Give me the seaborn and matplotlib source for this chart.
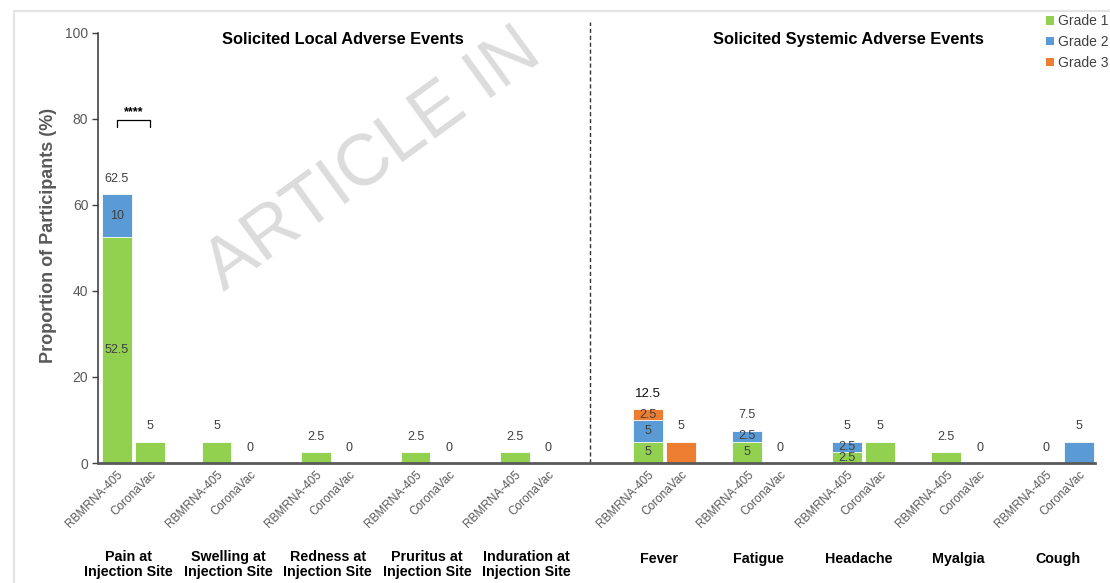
import matplotlib
matplotlib.use("Agg")
import matplotlib.pyplot as plt
from matplotlib.patches import Patch, Rectangle
import numpy as np
import pandas as pd
import seaborn as sns

# ---- data -------------------------------------------------------------
vaccines = ["RBMRNA-405", "CoronaVac"]
local_events = ["Pain at\nInjection Site", "Swelling at\nInjection Site",
                "Redness at\nInjection Site", "Pruritus at\nInjection Site",
                "Induration at\nInjection Site"]
systemic_events = ["Fever", "Fatigue", "Headache", "Myalgia", "Cough"]

# one value per bar: events in order, RBMRNA-405 then CoronaVac
grade1 = [52.5, 5, 5, 0, 2.5, 0, 2.5, 0, 2.5, 0,
          5, 0, 5, 0, 2.5, 5, 2.5, 0, 0, 0]
grade2 = [10, 0, 0, 0, 0, 0, 0, 0, 0, 0,
          5, 0, 2.5, 0, 2.5, 0, 0, 0, 0, 5]
grade3 = [0, 0, 0, 0, 0, 0, 0, 0, 0, 0,
          2.5, 5, 0, 0, 0, 0, 0, 0, 0, 0]

colors = {"Grade 1": "#92D050", "Grade 2": "#5B9BD5", "Grade 3": "#ED7D31"}

# ---- layout of bar slots ------------------------------------------------
events = local_events + systemic_events
pos = []
for i in range(len(events)):
    base = 3 * i + (1 if i >= len(local_events) else 0)
    pos += [base, base + 1]
pos = np.array(pos, dtype=float)

df = pd.DataFrame({
    "pos": pos,
    "vaccine": vaccines * len(events),
    "g1": grade1, "g2": grade2, "g3": grade3,
})
df["c1"] = df["g1"]
df["c2"] = df["g1"] + df["g2"]
df["c3"] = df["c2"] + df["g3"]

# ---- style ---------------------------------------------------------------
sns.set_theme(style="white")
plt.rcParams["font.family"] = ["Liberation Sans", "DejaVu Sans"]

fig = plt.figure(figsize=(11.10, 5.83), dpi=100)
ax = fig.add_axes([0.0883, 0.2058, 0.8982, 0.7565])
ax.patch.set_alpha(0)

# light page frame
fig.patches.append(Rectangle((14 / 1110, -0.05), 1.2, 1 - 11 / 583 + 0.05,
                             transform=fig.transFigure, fill=False,
                             edgecolor="#e3e3e3", linewidth=1.5, zorder=-2))

# watermark
fig.text(224 / 1110, 1 - 292 / 583, "ARTICLE IN", fontsize=52,
         color="#dcdcdc", rotation=36, rotation_mode="anchor",
         ha="left", va="baseline", zorder=-1)

# stacked bars, drawn from the full stack downwards
for col, grade in [("c3", "Grade 3"), ("c2", "Grade 2"), ("c1", "Grade 1")]:
    sns.barplot(data=df, x="pos", y=col, native_scale=True, width=0.9,
                color=colors[grade], saturation=1, errorbar=None,
                edgecolor="white", linewidth=0.6, ax=ax)

# value labels
for _, r in df.iterrows():
    strong = r["g3"] > 0 and r["c3"] > 10
    ax.annotate(f"{r['c3']:g}", (r["pos"], r["c3"]), xytext=(0, 11),
                textcoords="offset points", ha="center", va="center",
                fontsize=9.5 if strong else 9,
                color="#111111" if strong else "#404040")
    segs = [r["g1"], r["g2"], r["g3"]]
    if sum(s > 0 for s in segs) > 1:
        bottom = 0
        for s in segs:
            if s > 0:
                ax.text(r["pos"], bottom + s / 2, f"{s:g}", ha="center",
                        va="center", fontsize=9, color="#404040")
            bottom += s

# axes
ax.set_ylim(0, 102.5)
ax.set_yticks([0, 20, 40, 60, 80, 100])
ax.tick_params(axis="y", labelsize=10, labelcolor="#595959", left=True,
               length=4, width=1, color="#404040", pad=3)
ax.set_xticks(pos)
ax.set_xticklabels(df["vaccine"], rotation=45, ha="right",
                   rotation_mode="anchor", fontsize=8.5, color="#595959")
ax.tick_params(axis="x", length=0, pad=4)
ax.set_xlabel("")
ax.set_ylabel("Proportion of Participants (%)", fontsize=13,
              fontweight="bold", color="#595959")
ax.yaxis.set_label_coords(-0.041, 0.517)
for s in ["top", "right"]:
    ax.spines[s].set_visible(False)
ax.spines["left"].set_bounds(0, 100)
ax.spines["left"].set_color("#333333")
ax.spines["left"].set_linewidth(1.1)
ax.spines["bottom"].set_color("#595959")
ax.spines["bottom"].set_linewidth(2)

# divider between local and systemic events
ax.axvline(14.25, ymin=0, ymax=1, color="#333333", linestyle=(0, (3, 2)),
           linewidth=1)

# section titles
ax.text(6.82, 98.5, "Solicited Local Adverse Events", ha="center",
        va="center", fontsize=11.8, fontweight="bold", color="black")
ax.text(22.05, 98.5, "Solicited Systemic Adverse Events", ha="center",
        va="center", fontsize=11.8, fontweight="bold", color="black")

# event names under each pair
trans = ax.get_xaxis_transform()
for i, ev in enumerate(events):
    cx = (pos[2 * i] + pos[2 * i + 1]) / 2 - 0.15
    y = -0.231 if "\n" in ev else -0.217
    ax.text(cx, y, ev, transform=trans, ha="center", va="center",
            fontsize=10.3, fontweight="bold", color="black",
            linespacing=1.1)

# significance bracket over pain at injection site
bx0, bx1 = pos[0], pos[1]
ax.plot([bx0, bx0, bx1, bx1], [78.2, 79.8, 79.8, 78.2], color="black",
        linewidth=0.9)
ax.text((bx0 + bx1) / 2, 81.6, "****", ha="center", va="center",
        fontsize=9, fontweight="bold", color="black")

# legend
handles = [Patch(facecolor=colors[g], edgecolor="none", label=g)
           for g in ["Grade 1", "Grade 2", "Grade 3"]]
fig.legend(handles=handles, loc="upper left",
           bbox_to_anchor=(1046 / 1110, 1 - 14 / 583), frameon=False,
           fontsize=10, handlelength=0.6, handleheight=0.6,
           handletextpad=0.3, labelspacing=0.5, labelcolor="#404040",
           borderaxespad=0, borderpad=0)

ax.set_autoscale_on(False)
ax.set_xlim(-0.57, 29.48)

fig.savefig("out.png", dpi=100)
